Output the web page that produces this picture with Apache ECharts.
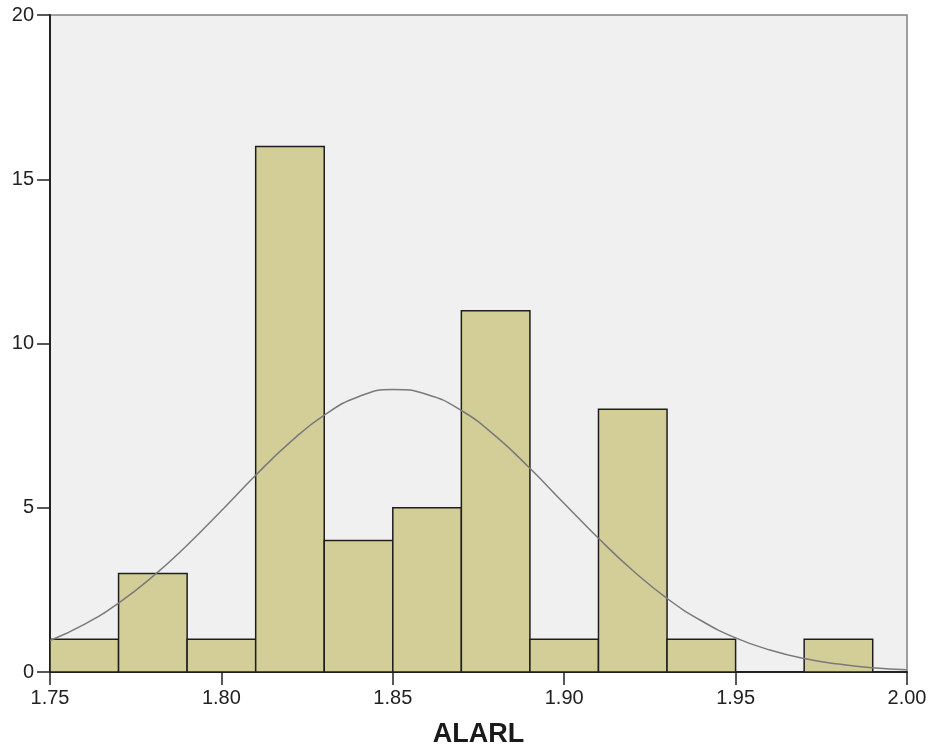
<!DOCTYPE html>
<html>
<head>
<meta charset="utf-8">
<script src="https://cdn.jsdelivr.net/npm/echarts@6/dist/echarts.min.js"></script>
<style>
  html, body { margin: 0; padding: 0; background: #ffffff; }
  #chart { width: 930px; height: 754px; }
</style>
</head>
<body>
<div id="chart"></div>
<script>
  // histogram bins (lower edge, upper edge) and counts
  var binStart = [1.75, 1.77, 1.79, 1.81, 1.83, 1.85, 1.87, 1.89, 1.91, 1.93, 1.95, 1.97];
  var binEnd = [1.77, 1.79, 1.81, 1.83, 1.85, 1.87, 1.89, 1.91, 1.93, 1.95, 1.97, 1.99];
  var counts = [1, 3, 1, 16, 4, 5, 11, 1, 8, 1, 0, 1];

  // normal curve
  var curveX = [1.75, 1.76, 1.77, 1.78, 1.79, 1.80, 1.81, 1.82, 1.83, 1.84, 1.85, 1.86, 1.87,
    1.88, 1.89, 1.90, 1.91, 1.92, 1.93, 1.94, 1.95, 1.96, 1.97, 1.98, 1.99, 2.00];
  var curveY = [0.96, 1.45, 2.10, 2.91, 3.86, 4.91, 5.99, 6.99, 7.82, 8.38, 8.60, 8.45, 7.96,
    7.18, 6.20, 5.13, 4.07, 3.09, 2.24, 1.56, 1.04, 0.67, 0.41, 0.24, 0.13, 0.07];

  var xTicks = ['1.75', '1.80', '1.85', '1.90', '1.95', '2.00'];

  var barData = [];
  for (var i = 0; i < counts.length; i++) {
    if (counts[i] > 0) barData.push([binStart[i], binEnd[i], counts[i]]);
  }
  var lineData = curveX.map(function (x, i) { return [x, curveY[i]]; });

  var chart = echarts.init(document.getElementById('chart'));
  chart.setOption({
    animation: false,
    grid: {
      left: 50, right: 23, top: 15, bottom: 82,
      show: true,
      backgroundColor: '#f0f0f0',
      borderColor: '#808080',
      borderWidth: 1.5
    },
    xAxis: {
      type: 'value',
      min: 1.75,
      max: 2.00,
      interval: 0.05,
      name: 'ALARL',
      nameLocation: 'middle',
      nameGap: 49,
      nameTextStyle: { fontFamily: 'Liberation Sans', fontSize: 27, fontWeight: 'bold', color: '#1a1a1a' },
      axisLine: { lineStyle: { color: '#222', width: 2 } },
      axisTick: { length: 13, lineStyle: { color: '#222', width: 1.5 } },
      axisLabel: {
        margin: 16,
        fontFamily: 'Liberation Sans', fontSize: 20, color: '#222',
        formatter: function (v) {
          var idx = Math.round((v - 1.75) / 0.05);
          return xTicks[idx];
        }
      },
      splitLine: { show: false }
    },
    yAxis: {
      type: 'value',
      min: 0,
      max: 20,
      interval: 5,
      axisLine: { show: true, lineStyle: { color: '#222', width: 2 } },
      axisTick: { show: true, length: 13, lineStyle: { color: '#222', width: 1.5 } },
      axisLabel: { margin: 16, fontFamily: 'Liberation Sans', fontSize: 20, color: '#222' },
      splitLine: { show: false }
    },
    series: [
      {
        type: 'custom',
        data: barData,
        renderItem: function (params, api) {
          var p0 = api.coord([api.value(0), api.value(2)]);
          var p1 = api.coord([api.value(1), 0]);
          return {
            type: 'rect',
            shape: { x: p0[0], y: p0[1], width: p1[0] - p0[0], height: p1[1] - p0[1] },
            style: { fill: '#d3ce98', stroke: '#1e1e1e', lineWidth: 1.5 }
          };
        },
        encode: { x: [0, 1], y: 2 },
        z: 2
      },
      {
        type: 'line',
        data: lineData,
        smooth: 0.5,
        showSymbol: false,
        lineStyle: { color: '#7a7a7a', width: 1.5 },
        z: 3
      }
    ]
  });
</script>
</body>
</html>
